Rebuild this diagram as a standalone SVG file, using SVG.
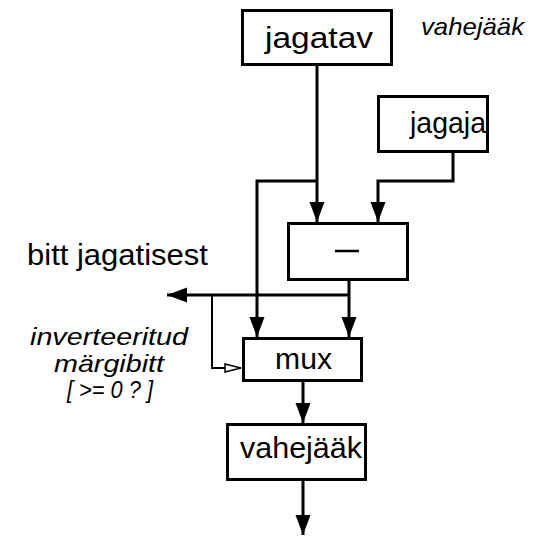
<svg xmlns="http://www.w3.org/2000/svg" width="533" height="536" viewBox="0 0 533 536">
  <style>
    .box { fill: #fff; stroke: #000; stroke-width: 3; }
    .lbl { font-family: "Liberation Sans", Arial, sans-serif; font-size: 29px; fill: #000; }
    .note { font-family: "Liberation Sans", Arial, sans-serif; font-size: 24px; font-style: italic; fill: #000; }
    .wire { fill: none; stroke: #000; stroke-width: 3; }
    .thin { fill: none; stroke: #000; stroke-width: 2; }
  </style>
  <defs>
    <marker id="arrow" markerUnits="userSpaceOnUse" markerWidth="22" markerHeight="16" refX="20" refY="7.5" orient="auto">
      <path d="M0,0 L20,7.5 L0,15 Z" fill="#000"/>
    </marker>
    <marker id="open" markerUnits="userSpaceOnUse" markerWidth="20" markerHeight="12" refX="17" refY="5" orient="auto">
      <path d="M1,1 L17,5 L1,9 Z" fill="#fff" stroke="#000" stroke-width="1.5"/>
    </marker>
  </defs>

  <text class="note" x="421" y="35" textLength="103" lengthAdjust="spacingAndGlyphs" font-size="23">vahejääk</text>

  <g id="connectors">
    <!-- dividend into subtractor, with a tap to the mux -->
    <path class="wire" d="M317,66 L317,222" marker-end="url(#arrow)"/>
    <path class="wire" d="M317,181 L257,181 L257,337" marker-end="url(#arrow)"/>
    <!-- divisor into subtractor -->
    <path class="wire" d="M453,153 L453,181 L378,181 L378,222" marker-end="url(#arrow)"/>
    <!-- difference into mux -->
    <path class="wire" d="M349,281 L349,337" marker-end="url(#arrow)"/>
    <!-- quotient bit out -->
    <path class="wire" d="M349,295 L167,295" stroke-width="2.5" marker-end="url(#arrow)"/>
    <!-- select line -->
    <path class="thin" d="M212,295 L212,368 L241,368" marker-end="url(#open)"/>
    <!-- mux to remainder register and onward -->
    <path class="wire" d="M303,381 L303,423" marker-end="url(#arrow)"/>
    <path class="wire" d="M303,481 L303,535" marker-end="url(#arrow)"/>
  </g>

  <g id="jagatav">
    <rect class="box" x="242.5" y="10.5" width="149" height="54"/>
    <text class="lbl" x="265" y="48" textLength="108" lengthAdjust="spacingAndGlyphs">jagatav</text>
  </g>

  <g id="jagaja">
    <rect class="box" x="378.5" y="96.5" width="109" height="55"/>
    <text class="lbl" x="410" y="133" textLength="76" lengthAdjust="spacingAndGlyphs">jagaja</text>
  </g>

  <g id="lahutaja">
    <rect class="box" x="288.5" y="223.5" width="119" height="56"/>
    <path d="M335,251 L359,251" stroke="#000" stroke-width="2.5"/>
  </g>

  <g id="mux">
    <rect class="box" x="243.5" y="338.5" width="118" height="42"/>
    <text class="lbl" x="275" y="369" textLength="57" lengthAdjust="spacingAndGlyphs">mux</text>
  </g>

  <g id="vahejaak">
    <rect class="box" x="227.5" y="424.5" width="138" height="55"/>
    <text class="lbl" x="240" y="458" textLength="122" lengthAdjust="spacingAndGlyphs">vahejääk</text>
  </g>

  <text class="lbl" x="27" y="265" textLength="181" lengthAdjust="spacingAndGlyphs">bitt jagatisest</text>

  <g id="select-note">
    <text class="note" x="30" y="345" textLength="158" lengthAdjust="spacingAndGlyphs">inverteeritud</text>
    <text class="note" x="54" y="372" textLength="110" lengthAdjust="spacingAndGlyphs">märgibitt</text>
    <text class="note" x="67" y="398" textLength="86" lengthAdjust="spacingAndGlyphs">[ &gt;= 0 ? ]</text>
  </g>
</svg>
